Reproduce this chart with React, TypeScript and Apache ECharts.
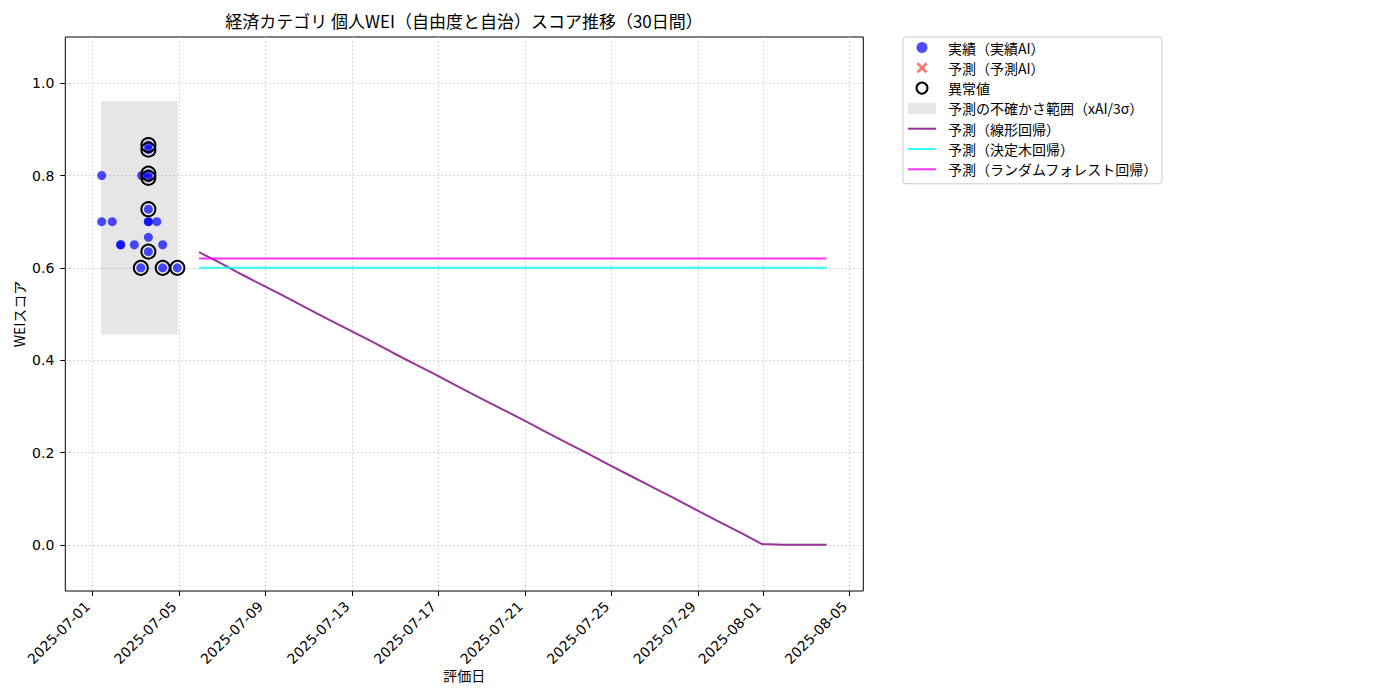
import React, { useEffect, useRef } from 'react';
import * as echarts from 'echarts';

// x positions are days counted from 2025-07-01 00:00
const actualDays = [0.43, 0.43, 0.92, 1.31, 1.31, 1.94, 2.28, 2.24, 2.59, 2.59, 2.59, 2.59, 2.59, 2.59, 2.59, 2.59, 2.59, 2.98, 3.25, 3.25, 3.93];
const actualScores = [0.8, 0.7, 0.7, 0.65, 0.65, 0.65, 0.8, 0.6, 0.866, 0.856, 0.804, 0.795, 0.727, 0.7, 0.7, 0.666, 0.635, 0.7, 0.65, 0.6, 0.6];

const anomalyDays = [2.24, 2.59, 2.59, 2.59, 2.59, 2.59, 2.59, 3.25, 3.93];
const anomalyScores = [0.6, 0.866, 0.856, 0.804, 0.795, 0.727, 0.635, 0.6, 0.6];

const forecastDays = [
  4.93, 5.93, 6.93, 7.93, 8.93, 9.93, 10.93, 11.93, 12.93, 13.93,
  14.93, 15.93, 16.93, 17.93, 18.93, 19.93, 20.93, 21.93, 22.93, 23.93,
  24.93, 25.93, 26.93, 27.93, 28.93, 29.93, 30.93, 31.93, 32.93, 33.93
];
const linearForecast = [
  0.634, 0.61, 0.585, 0.561, 0.537, 0.512, 0.488, 0.464, 0.44, 0.415,
  0.391, 0.367, 0.342, 0.318, 0.294, 0.27, 0.245, 0.221, 0.197, 0.172,
  0.148, 0.124, 0.1, 0.075, 0.051, 0.027, 0.002, 0.0, 0.0, 0.0
];
const treeForecast = [
  0.6, 0.6, 0.6, 0.6, 0.6, 0.6, 0.6, 0.6, 0.6, 0.6,
  0.6, 0.6, 0.6, 0.6, 0.6, 0.6, 0.6, 0.6, 0.6, 0.6,
  0.6, 0.6, 0.6, 0.6, 0.6, 0.6, 0.6, 0.6, 0.6, 0.6
];
const forestForecast = [
  0.62, 0.62, 0.62, 0.62, 0.62, 0.62, 0.62, 0.62, 0.62, 0.62,
  0.62, 0.62, 0.62, 0.62, 0.62, 0.62, 0.62, 0.62, 0.62, 0.62,
  0.62, 0.62, 0.62, 0.62, 0.62, 0.62, 0.62, 0.62, 0.62, 0.62
];

// uncertainty band (xAI / 3 sigma) over the span of the actual data
const bandStart = 0.4;
const bandEnd = 3.95;
const bandLower = 0.456;
const bandUpper = 0.961;

const xTickDays = [0, 4, 8, 12, 16, 20, 24, 28, 31, 35];
const xTickLabels = [
  '2025-07-01', '2025-07-05', '2025-07-09', '2025-07-13', '2025-07-17',
  '2025-07-21', '2025-07-25', '2025-07-29', '2025-08-01', '2025-08-05'
];
const yTicks = [0, 0.2, 0.4, 0.6, 0.8, 1.0];

const NAMES = {
  actual: '実績（実績AI）',
  predicted: '予測（予測AI）',
  anomaly: '異常値',
  band: '予測の不確かさ範囲（xAI/3σ）',
  linear: '予測（線形回帰）',
  tree: '予測（決定木回帰）',
  forest: '予測（ランダムフォレスト回帰）'
};

const FONT = '"Noto Sans CJK JP", "Noto Sans", sans-serif';
const TICK_FONT = '"DejaVu Sans", sans-serif';
const X_ICON = 'path://M0,2 L2,0 L6,4 L10,0 L12,2 L8,6 L12,10 L10,12 L6,8 L2,12 L0,10 L4,6 Z';
const LINE_ICON = 'path://M0,0 L28,0 L28,2 L0,2 Z';

const zip = (xs: number[], ys: number[]) => xs.map((x, i) => [x, ys[i]]);

const App: React.FC = () => {
  const chartRef = useRef<HTMLDivElement>(null);

  useEffect(() => {
    if (!chartRef.current) return;
    const chart = echarts.init(chartRef.current, undefined, { renderer: 'svg' });

    const gridLine = { show: true, lineStyle: { color: '#c8c8c8', type: [1.5, 2.5] as any, width: 1 } };

    const option: any = {
      animation: false,
      backgroundColor: '#fff',
      textStyle: { fontFamily: FONT },
      title: {
        text: '経済カテゴリ 個人WEI（自由度と自治）スコア推移（30日間）',
        left: 464,
        top: 12,
        padding: 0,
        textAlign: 'center',
        textStyle: { fontFamily: FONT, fontSize: 17, fontWeight: 'normal', color: '#000' }
      },
      grid: {
        left: 65.3,
        right: 536.7,
        top: 37,
        bottom: 109,
        containLabel: false,
        outerBoundsMode: 'none',
        show: true,
        borderColor: '#000',
        borderWidth: 1,
        backgroundColor: 'transparent'
      },
      legend: {
        orient: 'vertical',
        left: 903,
        top: 37,
        padding: [3, 4, 7, 5],
        itemWidth: 28,
        itemHeight: 11,
        itemGap: 5.3,
        backgroundColor: '#fff',
        borderColor: '#cccccc',
        borderWidth: 1,
        borderRadius: 3,
        textStyle: { fontFamily: FONT, fontSize: 14, color: '#000', lineHeight: 15, padding: [0, 0, 0, 7] },
        data: [
          { name: NAMES.actual, icon: 'circle' },
          { name: NAMES.predicted, icon: X_ICON },
          { name: NAMES.anomaly, icon: 'circle' },
          { name: NAMES.band, icon: 'rect', itemStyle: { color: 'rgba(128,128,128,0.2)' } },
          { name: NAMES.linear, icon: LINE_ICON },
          { name: NAMES.tree, icon: LINE_ICON },
          { name: NAMES.forest, icon: LINE_ICON }
        ]
      },
      xAxis: {
        type: 'value',
        min: -1.25,
        max: 35.63,
        name: '評価日',
        nameLocation: 'middle',
        nameGap: 77,
        nameMoveOverlap: false,
        nameTextStyle: { fontFamily: FONT, fontSize: 14, color: '#000' },
        axisLine: { show: false, onZero: false },
        axisTick: { show: true, length: 5, lineStyle: { color: '#000' }, customValues: xTickDays },
        axisLabel: {
          customValues: xTickDays,
          rotate: 45,
          margin: 8,
          padding: [0, 7, 0, 0],
          fontSize: 14,
          color: '#000',
          fontFamily: TICK_FONT,
          formatter: (v: number) => {
            const i = xTickDays.indexOf(Math.round(v));
            return i >= 0 ? xTickLabels[i] : '';
          }
        },
        splitLine: gridLine
      },
      yAxis: {
        type: 'value',
        min: -0.1,
        max: 1.1,
        name: 'WEIスコア',
        nameLocation: 'middle',
        nameGap: 39,
        nameMoveOverlap: false,
        nameTextStyle: { fontFamily: FONT, fontSize: 14, color: '#000' },
        axisLine: { show: false, onZero: false },
        axisTick: { show: true, length: 5, lineStyle: { color: '#000' }, customValues: yTicks },
        axisLabel: {
          customValues: yTicks,
          margin: 11,
          fontSize: 14,
          color: '#000',
          fontFamily: TICK_FONT,
          formatter: (v: number) => v.toFixed(1)
        },
        splitLine: gridLine
      },
      series: [
        {
          name: NAMES.band,
          type: 'custom',
          z: 1,
          itemStyle: { color: 'rgba(128,128,128,0.2)' },
          encode: { x: [0, 1], y: [2, 3] },
          data: [[bandStart, bandEnd, bandLower, bandUpper]],
          renderItem: (params: any, api: any) => {
            const p0 = api.coord([api.value(0), api.value(3)]);
            const p1 = api.coord([api.value(1), api.value(2)]);
            return {
              type: 'rect',
              shape: { x: p0[0], y: p0[1], width: p1[0] - p0[0], height: p1[1] - p0[1] },
              style: { fill: 'rgba(128,128,128,0.2)' }
            };
          }
        },
        {
          name: NAMES.linear,
          type: 'line',
          z: 2,
          symbol: 'none',
          color: 'rgba(128,0,128,0.8)',
          lineStyle: { width: 2, color: 'rgba(128,0,128,0.8)' },
          data: zip(forecastDays, linearForecast)
        },
        {
          name: NAMES.tree,
          type: 'line',
          z: 2,
          symbol: 'none',
          color: 'rgba(0,255,255,0.8)',
          lineStyle: { width: 2, color: 'rgba(0,255,255,0.8)' },
          data: zip(forecastDays, treeForecast)
        },
        {
          name: NAMES.forest,
          type: 'line',
          z: 2,
          symbol: 'none',
          color: 'rgba(255,0,255,0.8)',
          lineStyle: { width: 2, color: 'rgba(255,0,255,0.8)' },
          data: zip(forecastDays, forestForecast)
        },
        {
          name: NAMES.actual,
          type: 'scatter',
          z: 3,
          symbolSize: 9,
          itemStyle: { color: 'rgba(0,0,255,0.7)', opacity: 1 },
          data: zip(actualDays, actualScores)
        },
        {
          name: NAMES.predicted,
          type: 'scatter',
          z: 3,
          symbol: X_ICON,
          symbolSize: 12,
          itemStyle: { color: 'rgba(255,0,0,0.7)' },
          data: []
        },
        {
          name: NAMES.anomaly,
          type: 'scatter',
          z: 4,
          symbolSize: 14,
          itemStyle: { color: 'rgba(0,0,0,0)', borderColor: '#000', borderWidth: 2, opacity: 1 },
          data: zip(anomalyDays, anomalyScores)
        }
      ]
    };

    chart.setOption(option);
    return () => chart.dispose();
  }, []);

  return (
    <div
      ref={chartRef}
      style={{ position: 'fixed', left: 0, top: 0, width: 1400, height: 700, background: '#fff' }}
    />
  );
};

export default App;
